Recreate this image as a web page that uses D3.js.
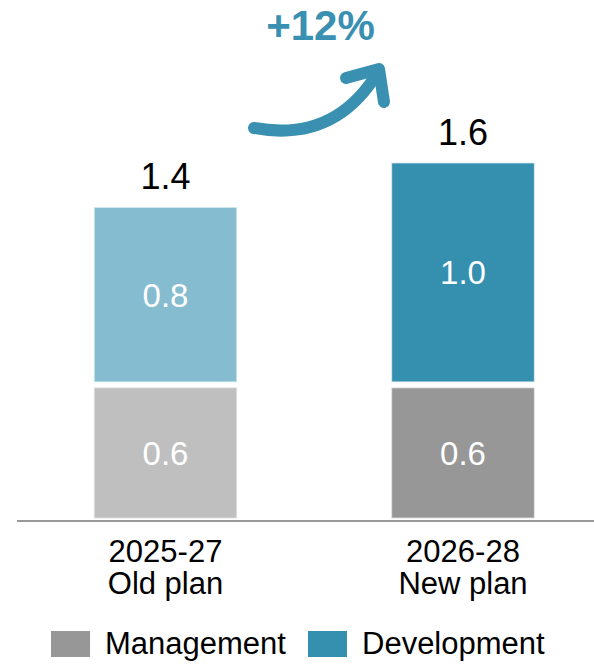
<!DOCTYPE html>
<html>
<head>
<meta charset="utf-8">
<script src="https://cdn.jsdelivr.net/npm/d3@7"></script>
<style>
  html, body { margin: 0; padding: 0; background: #fff; }
  svg { display: block; font-family: "Liberation Sans", Arial, sans-serif; }
</style>
</head>
<body>
<svg id="chart" width="594" height="665"></svg>
<script>
// Plan periods and their stacked components (billions)
const categories = ["2025-27", "2026-28"];
const planNames = ["Old plan", "New plan"];
const management = [0.6, 0.6];
const development = [0.8, 1.0];
const totals = [1.4, 1.6];
const growthLabel = "+12%";
const seriesNames = ["Management", "Development"];

// Colours: the old plan uses lighter shades of each series
const mgmtColors = ["#bfbfbf", "#979797"];
const devColors = ["#86bccf", "#3590b0"];
const accent = "#3a90b0";

const svg = d3.select("#chart");

const x = d3.scalePoint().domain(categories).range([165.5, 463]);
const barWidth = 142.5;
const y = d3.scaleLinear().domain([0, 1.6]).range([518, 163]);
const gap = 3; // half of the white gap between stacked segments

const rows = categories.map((c, i) => ({
  cat: c, plan: planNames[i], mgmt: management[i], dev: development[i],
  total: totals[i], mc: mgmtColors[i], dc: devColors[i]
}));

// Management segment
svg.selectAll("rect.mgmt").data(rows).join("rect")
  .attr("class", "mgmt")
  .attr("x", d => x(d.cat) - barWidth / 2)
  .attr("width", barWidth)
  .attr("y", d => y(d.mgmt) + gap)
  .attr("height", d => y(0) - y(d.mgmt) - gap)
  .attr("fill", d => d.mc)
  .attr("stroke", "#e2e2e2").attr("stroke-width", 0.8);

// Development segment
svg.selectAll("rect.dev").data(rows).join("rect")
  .attr("class", "dev")
  .attr("x", d => x(d.cat) - barWidth / 2)
  .attr("width", barWidth)
  .attr("y", d => y(d.mgmt + d.dev))
  .attr("height", d => y(d.mgmt) - y(d.mgmt + d.dev) - gap)
  .attr("fill", d => d.dc)
  .attr("stroke", "#d8e8ef").attr("stroke-width", 0.8);

// Segment value labels
svg.selectAll("text.mv").data(rows).join("text")
  .attr("class", "mv")
  .attr("x", d => x(d.cat))
  .attr("y", d => (y(0) + y(d.mgmt) + gap) / 2 + 12)
  .attr("text-anchor", "middle")
  .attr("font-size", 33).attr("fill", "#fff")
  .text(d => d.mgmt.toFixed(1));

svg.selectAll("text.dv").data(rows).join("text")
  .attr("class", "dv")
  .attr("x", d => x(d.cat))
  .attr("y", d => (y(d.mgmt) - gap + y(d.mgmt + d.dev)) / 2 + 12)
  .attr("text-anchor", "middle")
  .attr("font-size", 33).attr("fill", "#fff")
  .text(d => d.dev.toFixed(1));

// Totals above each bar
svg.selectAll("text.tot").data(rows).join("text")
  .attr("class", "tot")
  .attr("x", d => x(d.cat))
  .attr("y", d => y(d.total) - 18)
  .attr("text-anchor", "middle")
  .attr("font-size", 36).attr("fill", "#000")
  .text(d => d.total.toFixed(1));

// Baseline
svg.append("line")
  .attr("x1", 17).attr("x2", 594)
  .attr("y1", 521).attr("y2", 521)
  .attr("stroke", "#999").attr("stroke-width", 2);

// Category labels (two lines)
const cat = svg.selectAll("text.cat").data(rows).join("text")
  .attr("class", "cat")
  .attr("text-anchor", "middle")
  .attr("font-size", 31).attr("fill", "#000");
cat.append("tspan").attr("x", d => x(d.cat)).attr("y", 562).text(d => d.cat);
cat.append("tspan").attr("x", d => x(d.cat)).attr("y", 594).text(d => d.plan);

// Growth annotation: curved arrow and percentage
const arrow = svg.append("g")
  .attr("fill", "none").attr("stroke", accent)
  .attr("stroke-width", 12).attr("stroke-linecap", "round").attr("stroke-linejoin", "round");
arrow.append("path").attr("d", "M254,128 Q335,143 378,72");
arrow.append("path").attr("d", "M346,78 L379,69 L384,102");

svg.append("text")
  .attr("x", 320.5).attr("y", 40)
  .attr("text-anchor", "middle")
  .attr("font-size", 42).attr("font-weight", "bold").attr("fill", accent)
  .text(growthLabel);

// Legend
const legend = [
  { name: seriesNames[0], color: mgmtColors[1], x: 51 },
  { name: seriesNames[1], color: devColors[1], x: 308 }
];
const lg = svg.selectAll("g.lg").data(legend).join("g").attr("class", "lg");
lg.append("rect")
  .attr("x", d => d.x).attr("y", 631)
  .attr("width", 39).attr("height", 26)
  .attr("fill", d => d.color);
lg.append("text")
  .attr("x", d => d.x + 54).attr("y", 654)
  .attr("font-size", 31).attr("fill", "#000")
  .text(d => d.name);
</script>
</body>
</html>
